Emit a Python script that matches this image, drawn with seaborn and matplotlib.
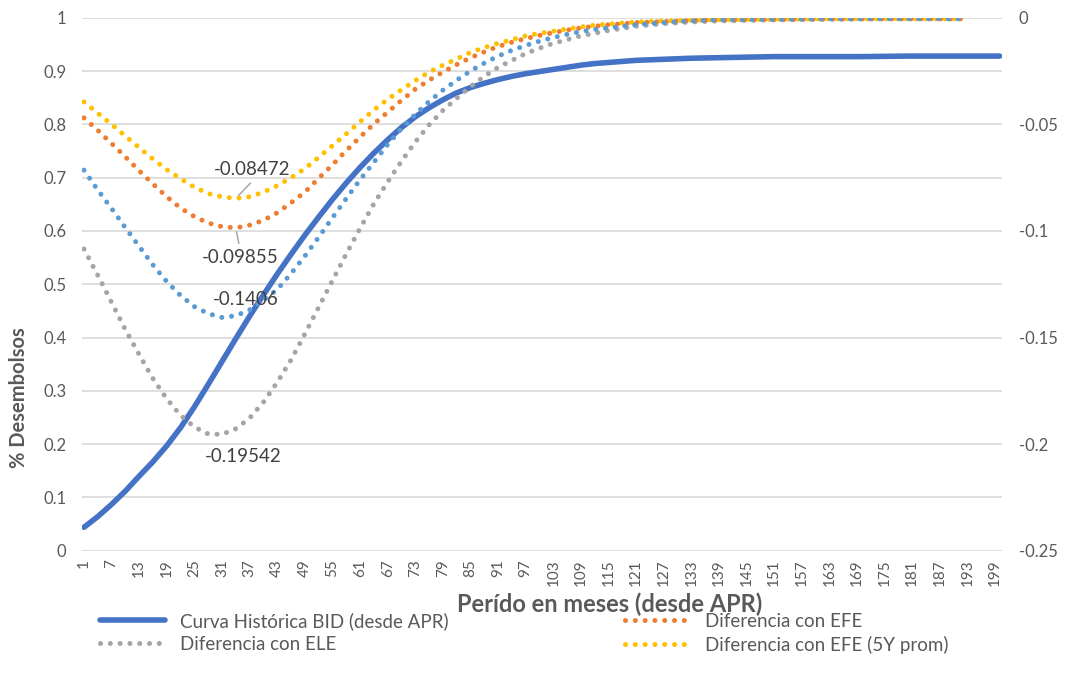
import matplotlib
matplotlib.use("Agg")
import matplotlib.pyplot as plt
import seaborn as sns
import pandas as pd
from matplotlib.ticker import FixedLocator, FuncFormatter

# ---- data -------------------------------------------------------------
# Historical disbursement curve (left axis, share disbursed)
meses_hist = [1, 4, 7, 10, 13, 16, 19, 22, 25, 28, 31, 34, 37, 40, 43, 46, 49, 52,
              55, 58, 61, 64, 67, 70, 73, 76, 79, 82, 85, 88, 91, 94, 97, 100, 103,
              106, 109, 112, 115, 118, 121, 127, 133, 139, 145, 151, 160, 170, 180,
              190, 200]
curva_hist = [0.044, 0.064, 0.087, 0.112, 0.140, 0.167, 0.197, 0.231, 0.270, 0.312,
              0.355, 0.398, 0.440, 0.480, 0.519, 0.556, 0.592, 0.626, 0.659, 0.690,
              0.719, 0.746, 0.771, 0.794, 0.814, 0.831, 0.846, 0.859, 0.869, 0.877,
              0.884, 0.890, 0.895, 0.899, 0.903, 0.907, 0.911, 0.914, 0.916, 0.918,
              0.920, 0.922, 0.924, 0.925, 0.926, 0.927, 0.927, 0.927, 0.928, 0.928,
              0.928]

# Differences against the historical curve (right axis)
meses_dif = [1, 4, 7, 10, 13, 16, 19, 22, 25, 28, 31, 34, 37, 40, 43, 46, 49, 52,
             55, 58, 61, 64, 67, 70, 73, 76, 79, 82, 85, 88, 91, 94, 97, 100, 103,
             106, 109, 112, 115, 118, 121, 127, 133, 139, 151, 163, 175, 192]
dif_efe = [-0.0470, -0.0528, -0.0590, -0.0653, -0.0718, -0.0780, -0.0840, -0.0893,
           -0.0933, -0.0963, -0.0980, -0.09855, -0.0973, -0.0950, -0.0915, -0.0868,
           -0.0818, -0.0753, -0.0690, -0.0623, -0.0560, -0.0498, -0.0443, -0.0388,
           -0.0335, -0.0293, -0.0255, -0.0220, -0.0188, -0.0160, -0.0135, -0.0115,
           -0.0098, -0.0083, -0.0070, -0.0058, -0.0048, -0.0040, -0.0033, -0.0028,
           -0.0023, -0.0018, -0.0013, -0.0010, -0.0008, -0.0005, -0.0005, -0.0005]
dif_ele = [-0.1085, -0.1208, -0.1335, -0.1463, -0.1580, -0.1693, -0.1788, -0.1865,
           -0.1920, -0.19525, -0.19542, -0.1928, -0.1878, -0.1803, -0.1710, -0.1605,
           -0.1483, -0.1358, -0.1233, -0.1108, -0.0988, -0.0873, -0.0770, -0.0673,
           -0.0583, -0.0503, -0.0435, -0.0378, -0.0323, -0.0275, -0.0233, -0.0200,
           -0.0168, -0.0143, -0.0120, -0.0103, -0.0085, -0.0073, -0.0060, -0.0050,
           -0.0040, -0.0028, -0.0020, -0.0015, -0.0010, -0.0008, -0.0005, -0.0005]
dif_efe_5y = [-0.0395, -0.0448, -0.0500, -0.0555, -0.0610, -0.0663, -0.0713, -0.0755,
              -0.0795, -0.0825, -0.0840, -0.08472, -0.0840, -0.0818, -0.0788, -0.0750,
              -0.0708, -0.0655, -0.0600, -0.0545, -0.0488, -0.0433, -0.0383, -0.0338,
              -0.0295, -0.0255, -0.0223, -0.0193, -0.0163, -0.0140, -0.0120, -0.0103,
              -0.0085, -0.0073, -0.0063, -0.0053, -0.0043, -0.0035, -0.0030, -0.0025,
              -0.0020, -0.0015, -0.00125, -0.0010, -0.00075, -0.0005, -0.0005, -0.0005]
dif_adicional = [-0.0715, -0.0808, -0.0895, -0.0985, -0.1073, -0.1160, -0.1238, -0.1303,
                 -0.1355, -0.1388, -0.1406, -0.1398, -0.1370, -0.1325, -0.1275, -0.1200,
                 -0.1118, -0.1030, -0.0938, -0.0848, -0.0760, -0.0678, -0.0595, -0.0520,
                 -0.0453, -0.0393, -0.0340, -0.0293, -0.0250, -0.0213, -0.0180, -0.0153,
                 -0.0130, -0.0110, -0.0093, -0.0078, -0.0065, -0.0055, -0.0048, -0.0040,
                 -0.0033, -0.0023, -0.0015, -0.0010, -0.0008, -0.0005, -0.0005, -0.0005]

x_ticks = [1, 7, 13, 19, 25, 31, 37, 43, 49, 55, 61, 67, 73, 79, 85, 91, 97, 103,
           109, 115, 121, 127, 133, 139, 145, 151, 157, 163, 169, 175, 181, 187, 193, 199]
y_left_ticks = [0, 0.1, 0.2, 0.3, 0.4, 0.5, 0.6, 0.7, 0.8, 0.9, 1]
y_right_ticks = [-0.25, -0.2, -0.15, -0.1, -0.05, 0]

# ---- style ------------------------------------------------------------
sns.set_theme(style="white")
plt.rcParams['font.family'] = ['Lato', 'DejaVu Sans']
TXT = '#595959'
LBL = '#404040'
GRID = '#D9D9D9'

C_HIST = '#4472C4'
C_EFE = '#ED7D31'
C_ELE = '#A5A5A5'
C_EFE5 = '#FFC000'
C_ADIC = '#5B9BD5'

fig = plt.figure(figsize=(10.69, 6.81), dpi=100)
ax = fig.add_axes([0.0764, 0.1913, 0.8609, 0.7827])
ax2 = ax.twinx()

hist_df = pd.DataFrame({'mes': meses_hist, 'valor': curva_hist})
sns.lineplot(data=hist_df, x='mes', y='valor', ax=ax, color=C_HIST, lw=4.0,
             solid_capstyle='round', solid_joinstyle='round',
             label='Curva Histórica BID (desde APR)', legend=False)
h_hist = ax.lines[-1]

dotted = dict(lw=3.6, linestyle=(0, (0.01, 1.95)), dash_capstyle='round', legend=False)
handles = {}
for nombre, serie, color in [
        ('Diferencia con ELE', dif_ele, C_ELE),
        ('Diferencia con EFE', dif_efe, C_EFE),
        ('Diferencia con EFE (5Y prom)', dif_efe_5y, C_EFE5),
        ('_adicional', dif_adicional, C_ADIC)]:
    df = pd.DataFrame({'mes': meses_dif, 'valor': serie})
    sns.lineplot(data=df, x='mes', y='valor', ax=ax2, color=color, **dotted)
    handles[nombre] = ax2.lines[-1]

# ---- axes -------------------------------------------------------------
ax.set_xlim(0.5, 200.5)
ax.set_ylim(0, 1)
ax2.set_ylim(-0.25, 0)

ax.xaxis.set_major_locator(FixedLocator(x_ticks))
ax.set_xticklabels([str(t) for t in x_ticks], rotation=90)
ax.yaxis.set_major_locator(FixedLocator(y_left_ticks))
ax.yaxis.set_major_formatter(FuncFormatter(lambda v, p: f'{v:g}'))
ax2.yaxis.set_major_locator(FixedLocator(y_right_ticks))
ax2.yaxis.set_major_formatter(FuncFormatter(lambda v, p: f'{v:g}'))

ax.tick_params(axis='y', length=0, pad=11, labelsize=12, labelcolor=TXT)
ax.tick_params(axis='x', length=0, pad=6, labelsize=11, labelcolor=TXT)
ax2.tick_params(axis='y', length=0, pad=12, labelsize=12, labelcolor=TXT)

ax.grid(axis='y', color=GRID, lw=1.2)
ax.grid(axis='x', visible=False)
ax2.grid(False)
for a in (ax, ax2):
    for s in a.spines.values():
        s.set_visible(False)

ax.set_xlabel('Perído en meses (desde APR)', fontsize=17, fontweight='bold',
              color=TXT)
ax.xaxis.set_label_coords(0.574, -0.078)
ax.set_ylabel('% Desembolsos', fontsize=14.5, fontweight='bold', color=TXT)
ax.yaxis.set_label_coords(-0.057, 0.288)
ax2.set_ylabel('')

# ---- minimum labels ---------------------------------------------------
def etiqueta_min(serie, dx, dy, rel=None):
    i = min(range(len(serie)), key=lambda k: serie[k])
    kw = {}
    if rel is not None:
        kw['arrowprops'] = dict(arrowstyle='-', color='#A6A6A6', lw=1.1,
                                relpos=rel, shrinkA=2, shrinkB=3)
    ax2.annotate(f'{serie[i]:g}', xy=(meses_dif[i], serie[i]), xytext=(dx, dy),
                 textcoords='offset points', ha='center', va='center',
                 fontsize=13.5, color=LBL, **kw)

etiqueta_min(dif_efe_5y, 11.5, 21, rel=(0.55, 0))
etiqueta_min(dif_efe, 3, -21.7, rel=(0.5, 1))
etiqueta_min(dif_adicional, 17, 13.3)
etiqueta_min(dif_ele, 15.5, -16.3)

# ---- legend -----------------------------------------------------------
orden = [h_hist, handles['Diferencia con ELE'], handles['Diferencia con EFE'],
         handles['Diferencia con EFE (5Y prom)']]
textos = ['Curva Histórica BID (desde APR)', 'Diferencia con ELE',
          'Diferencia con EFE', 'Diferencia con EFE (5Y prom)']
leg = fig.legend(orden, textos, loc='upper left', ncol=2, frameon=False,
                 bbox_to_anchor=(100 / 1069, 1 - 612 / 681), borderpad=0,
                 borderaxespad=0, fontsize=13.5, handlelength=3.47,
                 handletextpad=0.8, columnspacing=9.4, labelspacing=0.3)
for t in leg.get_texts():
    t.set_color(TXT)

fig.savefig('out.png', dpi=100)
